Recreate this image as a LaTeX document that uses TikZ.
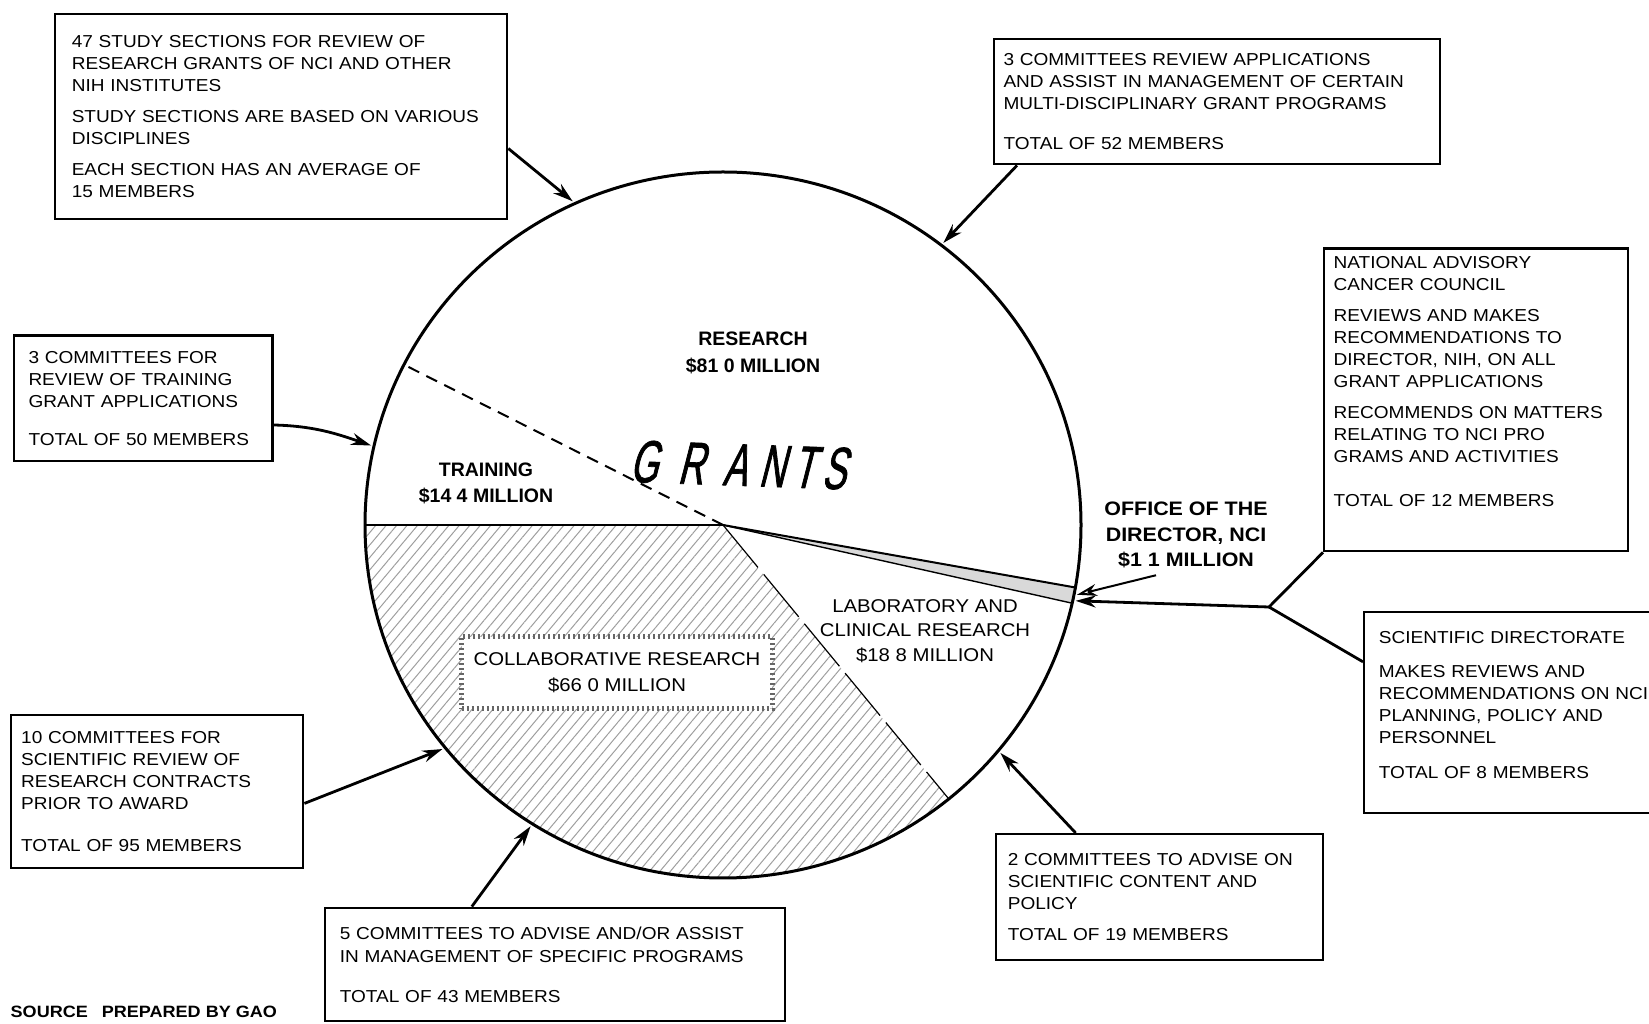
\documentclass[tikz,border=0pt]{standalone}
\usepackage{fontspec}
\setmainfont{Liberation Sans}[FakeStretch=1.1]
\newfontfamily\plainsans{Liberation Sans}
\newfontfamily\grantsfont{Liberation Sans}[FakeSlant=0.22, FakeStretch=0.6, FakeBold=1.2]
\usetikzlibrary{arrows.meta, calc, patterns.meta, shapes.geometric}

\begin{document}
\begin{tikzpicture}[
        x=1pt, y=1pt,
        panel/.style={
            draw,
            line width=2.4pt,
            anchor=north west,
            align=left,
            inner ysep=0pt,
            font=\fontsize{17.3}{22}\selectfont
        },
        wedge/.style={
            align=center,
            inner sep=2pt,
            font=\fontsize{18.5}{24.5}\selectfont
        },
        bigtitle/.style={
            inner sep=0pt,
            font=\grantsfont\fontsize{60}{60}\selectfont
        },
        feed/.style={
            -{Stealth[open, length=20pt, width=12pt]},
            line width=2.8pt
        }
    ]
        \useasboundingbox (0,0) rectangle (1649,1023);

        % --- 1. Le camembert des subventions ---
        \coordinate (pie) at (723,498);
        \fill[pattern={Lines[angle=50, distance=8pt, line width=1pt]}, pattern color=black!38]
            (pie) -- ($(pie)+(180:358 and 353)$)
            arc[start angle=180, end angle=309.1, x radius=358, y radius=353] -- cycle;
        \fill[black!15] (pie) -- ($(pie)+(347.2:358 and 353)$)
            arc[start angle=347.2, end angle=349.8, x radius=358, y radius=353] -- cycle;

        \draw[line width=2pt, dash pattern=on 12pt off 8pt] (pie) -- ($(pie)+(153:358 and 353)$);
        \draw[line width=1.6pt] (pie) -- ($(pie)+(180:358 and 353)$);
        \draw[line width=1.2pt, dash pattern=on 55pt off 9pt] (pie) -- ($(pie)+(309.1:358 and 353)$);
        \draw[line width=1.4pt] (pie) -- ($(pie)+(347.2:358 and 353)$);
        \draw[line width=2pt] (pie) -- ($(pie)+(349.8:358 and 353)$);
        \draw[line width=3pt] (pie) ellipse[x radius=358, y radius=353];

        % --- 2. Libelles des secteurs ---
        \node[wedge, font=\plainsans\bfseries\fontsize{19.5}{27}\selectfont] (research) at (753,670.5)
            {RESEARCH\\ \$81 0 MILLION};
        \node[wedge, font=\plainsans\bfseries\fontsize{19.5}{26}\selectfont] (training) at (486,540)
            {TRAINING\\ \$14 4 MILLION};
        \node[wedge, font=\bfseries\fontsize{19.5}{25.5}\selectfont] (office) at (1186,488)
            {OFFICE OF THE\\ DIRECTOR, NCI\\ \$1 1 MILLION};
        \node[wedge] (lab) at (925,392)
            {LABORATORY AND\\ CLINICAL RESEARCH\\ \$18 8 MILLION};
        \node[wedge, fill=white, draw=black!60, line width=5pt, dash pattern=on 2pt off 3pt,
            inner xsep=12pt, minimum height=72pt, font=\fontsize{18.5}{26}\selectfont] (collab) at (617,350)
            {COLLABORATIVE RESEARCH\\ \$66 0 MILLION};

        % GRANTS en lettres espacees
        \node[bigtitle, rotate=-2] (grants) at (738,558)
            {G\hspace{20pt}R\hspace{19pt}A\hspace{12pt}N\hspace{8pt}T\hspace{7pt}S};

        % --- 3. Comites et conseils ---
        \node[panel, inner xsep=17pt, text width=418.3pt, minimum height=205.1pt] (studysec) at (53.6,1010.4) {
            47 STUDY SECTIONS FOR REVIEW OF\\
            RESEARCH GRANTS OF NCI AND OTHER\\
            NIH INSTITUTES\\[9pt]
            STUDY SECTIONS ARE BASED ON VARIOUS\\
            DISCIPLINES\\[9pt]
            EACH SECTION HAS AN AVERAGE OF\\
            15 MEMBERS
        };

        \node[panel, inner xsep=9.5pt, text width=427pt, minimum height=125.1pt] (multidis) at (992.8,985.1) {
            3 COMMITTEES REVIEW APPLICATIONS\\
            AND ASSIST IN MANAGEMENT OF CERTAIN\\
            MULTI-DISCIPLINARY GRANT PROGRAMS\\[18pt]
            TOTAL OF 52 MEMBERS
        };

        \node[panel, inner xsep=9.5pt, text width=285pt, minimum height=302.8pt] (council) at (1323,775.8) {
            NATIONAL ADVISORY\\
            CANCER COUNCIL\\[9.5pt]
            REVIEWS AND MAKES\\
            RECOMMENDATIONS TO\\
            DIRECTOR, NIH, ON ALL\\
            GRANT APPLICATIONS\\[8.5pt]
            RECOMMENDS ON MATTERS\\
            RELATING TO NCI PRO\\
            GRAMS AND ACTIVITIES\\[22pt]
            TOTAL OF 12 MEMBERS\rule[-37pt]{0pt}{37pt}
        };

        \node[panel, inner xsep=14.7pt, text width=290.6pt, minimum height=201pt] (scidir) at (1363,412) {
            SCIENTIFIC DIRECTORATE\\[11.7pt]
            MAKES REVIEWS AND\\
            RECOMMENDATIONS ON NCI\\
            PLANNING, POLICY AND\\
            PERSONNEL\\[13pt]
            TOTAL OF 8 MEMBERS\rule[-16pt]{0pt}{16pt}
        };

        \node[panel, inner xsep=11.6pt, text width=303.8pt, minimum height=126pt] (scicont) at (995,190) {
            2 COMMITTEES TO ADVISE ON\\
            SCIENTIFIC CONTENT AND\\
            POLICY\\[8.5pt]
            TOTAL OF 19 MEMBERS
        };

        \node[panel, inner xsep=14.7pt, text width=430.1pt, minimum height=113.4pt,
            font=\fontsize{17.3}{23}\selectfont] (specprog) at (324,116.4) {
            5 COMMITTEES TO ADVISE AND/OR ASSIST\\
            IN MANAGEMENT OF SPECIFIC PROGRAMS\\[17pt]
            TOTAL OF 43 MEMBERS
        };

        \node[panel, inner xsep=10.5pt, text width=271.5pt, minimum height=152.6pt] (contract) at (9.5,309) {
            10 COMMITTEES FOR\\
            SCIENTIFIC REVIEW OF\\
            RESEARCH CONTRACTS\\
            PRIOR TO AWARD\\[20.5pt]
            TOTAL OF 95 MEMBERS
        };

        \node[panel, inner xsep=14.7pt, text width=229.3pt, minimum height=125.2pt] (trainrev) at (12.6,688.6) {
            3 COMMITTEES FOR\\
            REVIEW OF TRAINING\\
            GRANT APPLICATIONS\\[16pt]
            TOTAL OF 50 MEMBERS
        };

        \node[anchor=west, inner sep=0pt, font=\bfseries\fontsize{16.4}{18}\selectfont] (source) at (10.5,11)
            {SOURCE\hspace{14pt}PREPARED BY GAO};

        % --- 4. Fleches vers le camembert ---
        \foreach \nm/\ang in {tipA/114.6, tipB/52.4, tipH/167.1, tipG/219,
                              tipF/237.8, tipE/320.2, tipO/347.7, tipS/348.7} {
            \coordinate (\nm) at ($(pie)+(\ang:361 and 356)$);
        }
        \coordinate (hub) at (1269,416);

        \draw[feed] ($(studysec.north east)!0.655!(studysec.south east)$) -- (tipA);
        \draw[feed] ($(multidis.south west)!0.054!(multidis.south east)$) -- (tipB);
        \draw[feed] ($(trainrev.north east)!0.71!(trainrev.south east)$)
            .. controls +(40,-1) and +(-35,12) .. (tipH);
        \draw[feed] ($(contract.north east)!0.577!(contract.south east)$) -- (tipG);
        \draw[feed] ($(specprog.north west)!0.32!(specprog.north east)$) -- (tipF);
        \draw[feed] ($(scicont.north west)!0.245!(scicont.north east)$) -- (tipE);

        % Conseil et direction scientifique vers le bureau du directeur
        \draw[line width=2.8pt, line join=round] (council.south west) -- (hub)
            -- ($(scidir.north west)!0.25!(scidir.south west)$);
        \draw[feed] (hub) -- (tipO);
        \draw[feed, line width=2pt] ([xshift=-30pt, yshift=-5pt]office.south) -- (tipS);
    \end{tikzpicture}
\end{document}
